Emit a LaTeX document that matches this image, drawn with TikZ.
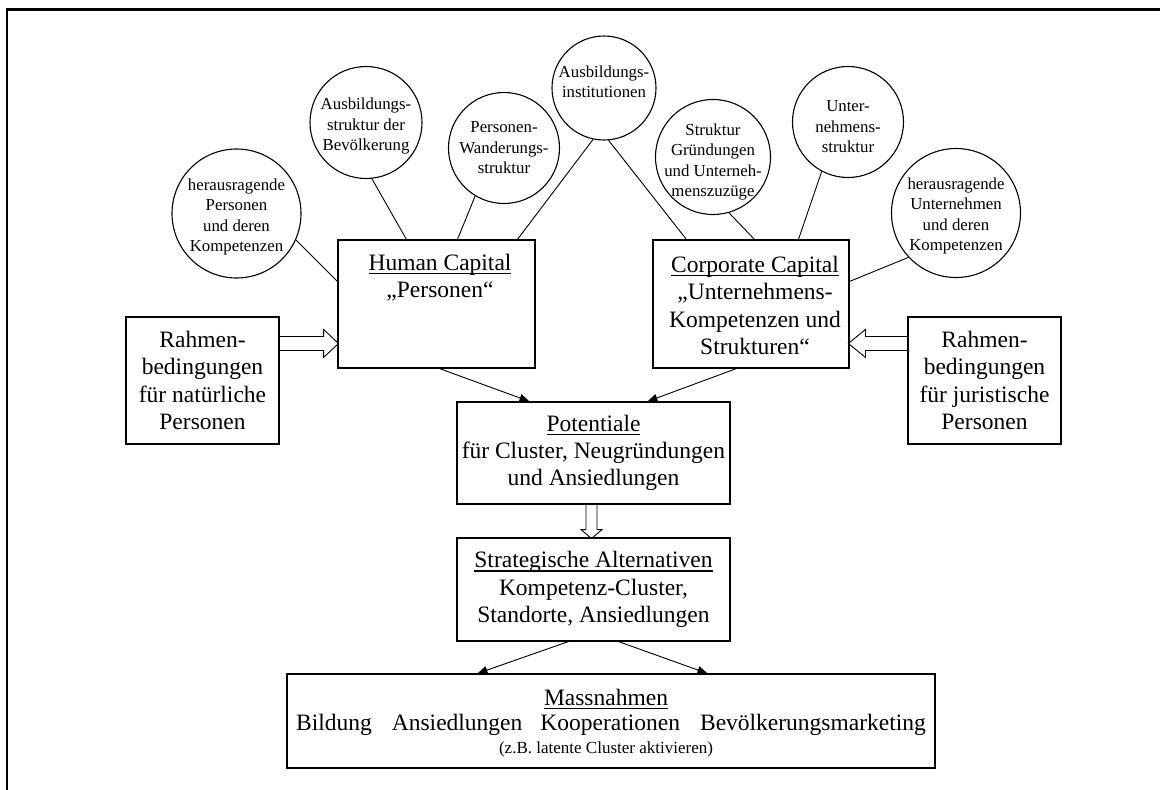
\documentclass[tikz,border=0pt]{standalone}
\usepackage{fontspec}
\setmainfont{Liberation Serif}
\usetikzlibrary{arrows.meta,calc}
\newcommand\ulx[1]{\leavevmode\setbox0\hbox{#1}\rlap{\raisebox{-3.8pt}{\rule{\wd0}{1.4pt}}}\box0}
\newcommand\fbig{\fontsize{23.5}{27.3}\selectfont}
\newcommand\fcirc{\fontsize{16.8}{20.5}\selectfont}
\newcommand\fnote{\fontsize{17}{20}\selectfont}
\tikzset{
  box/.style={draw, line width=1.1pt, inner sep=0pt, align=center, font=\fbig},
  circ/.style={draw, circle, line width=1.1pt, inner sep=0pt},
  ctext/.style={align=center, font=\fcirc, inner sep=0pt},
  btext/.style={align=center, font=\fbig, inner sep=0pt},
  con/.style={line width=0.9pt},
  arr/.style={line width=0.9pt, -{Triangle[length=10pt,width=8pt]}},
  hollow/.style={line width=0.9pt, line join=miter},
}
\begin{document}
\begin{tikzpicture}[x=1pt,y=-1pt]
\useasboundingbox (0,0) rectangle (1160,790);
% outer frame (top and left only)
\draw[line width=2.5pt] (1160,9.5) -- (7,9.5) -- (7,790);

% boxes
\node[box, minimum width=153pt, minimum height=127pt] (rl) at (202.5,380.5) {Rahmen-\\bedingungen\\für natürliche\\Personen};
\node[box, minimum width=197pt, minimum height=128pt] (hc) at (436.5,304) {};
\node[box, minimum width=196pt, minimum height=128pt] (cc) at (751,304) {};
\node[box, minimum width=153pt, minimum height=127pt] (rr) at (984.5,380.5) {Rahmen-\\bedingungen\\für juristische\\Personen};
\node[box, minimum width=273pt, minimum height=102pt] (pot) at (593.5,453) {\ulx{Potentiale}\\für Cluster, Neugründungen\\und Ansiedlungen};
\node[box, minimum width=273pt, minimum height=103pt] (str) at (593.5,589.5) {\ulx{Strategische Alternativen}\\Kompetenz-Cluster,\\Standorte, Ansiedlungen};
\node[box, minimum width=648pt, minimum height=94pt] (mas) at (611,721) {};

% box texts
\node[btext] (hct) at (440,278) {\ulx{Human Capital}\\„Personen“};
\node[btext] (cct) at (755,305.5) {\ulx{Corporate Capital}\\„Unternehmens-\\Kompetenzen und\\Strukturen“};
\node[btext] (mast1) at (606,699) {\ulx{Massnahmen}};
\node[btext] (mast2) at (611,725) {Bildung\hspace{20pt}Ansiedlungen\hspace{18pt}Kooperationen\hspace{20pt}Bevölkerungsmarketing};
\node[align=center, font=\fnote, inner sep=0pt] (mast3) at (606,749) {(z.B. latente Cluster aktivieren)};

% circles
\node[circ, minimum size=129pt] (cA) at (236.5,213.5) {};
\node[circ, minimum size=112pt] (cB) at (366,122.5) {};
\node[circ, minimum size=111pt] (cC) at (504,148) {};
\node[circ, minimum size=104pt] (cD) at (604,88) {};
\node[circ, minimum size=115pt] (cE) at (713,157) {};
\node[circ, minimum size=111pt] (cF) at (848,122) {};
\node[circ, minimum size=129pt] (cG) at (956,213) {};

% circle texts
\node[ctext] (tA) at (236.5,217) {herausragende\\Personen\\und deren\\Kompetenzen};
\node[ctext] (tB) at (366,126) {Ausbildungs-\\struktur der\\Bevölkerung};
\node[ctext] (tC) at (504,148) {Personen-\\Wanderungs-\\struktur};
\node[ctext] (tD) at (604,82) {Ausbildungs-\\institutionen};
\node[ctext] (tE) at (713,162) {Struktur\\Gründungen\\und Unterneh-\\menszuzüge};
\node[ctext] (tF) at (848,127) {Unter-\\nehmens-\\struktur};
\node[ctext] (tG) at (956,216) {herausragende\\Unternehmen\\und deren\\Kompetenzen};

% attachment points on boxes
\coordinate (hcA) at ($(hc.north west)+(0,42)$);
\coordinate (hcB) at ($(hc.north west)+(69,0)$);
\coordinate (hcC) at ($(hc.north west)+(120,0)$);
\coordinate (hcD) at ($(hc.north west)+(180,0)$);
\coordinate (ccD) at ($(cc.north west)+(34,0)$);
\coordinate (ccE) at ($(cc.north west)+(102,0)$);
\coordinate (ccF) at ($(cc.north west)+(146,0)$);
\coordinate (ccG) at ($(cc.north east)+(0,42)$);

% connectors circle -> box
\draw[con] (cA.-24) -- (hcA);
\draw[con] (cB.-84) -- (hcB);
\draw[con] (cC.-121) -- (hcC);
\draw[con] (cD.-102) -- (hcD);
\draw[con] (cD.-85) -- (ccD);
\draw[con] (cE.-74) -- (ccE);
\draw[con] (cF.-118) -- (ccF);
\draw[con] (cG.-137) -- (ccG);

% filled arrows
\draw[arr] ($(hc.south west)+(102,0)$) -- ($(pot.north west)+(73,0)$);
\draw[arr] ($(cc.south west)+(84,0)$) -- ($(pot.north west)+(191,0)$);
\draw[arr] ($(str.south west)+(112,0)$) -- ($(mas.north west)+(191,0)$);
\draw[arr] ($(str.south west)+(162,0)$) -- ($(mas.north west)+(421,0)$);

% hollow block arrows
\draw[hollow] ($(rl.north east)+(0,20)$) -- ++(44,0) -- ++(0,-7) -- ++(15,14) -- ++(-15,14) -- ++(0,-7) -- ++(-44,0);
\draw[hollow] ($(rr.north west)+(0,20)$) -- ++(-42,0) -- ++(0,-7) -- ++(-17,14) -- ++(17,14) -- ++(0,-7) -- ++(42,0);
\draw[hollow] ($(pot.south)+(-7.5,0)$) -- ++(0,25) -- ++(-5,0) -- ++(10.5,9) -- ++(10.5,-9) -- ++(-5,0) -- ++(0,-25);
\end{tikzpicture}
\end{document}
